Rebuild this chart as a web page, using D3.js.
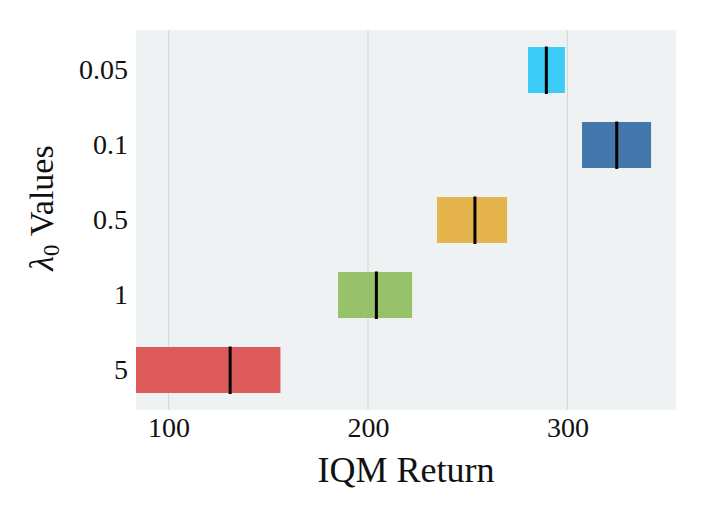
<!DOCTYPE html>
<html><head><meta charset="utf-8">
<script src="https://cdn.jsdelivr.net/npm/d3@7"></script>
<style>body{margin:0;background:#fff}</style>
</head><body>
<svg id="c" width="720" height="520"></svg>
<script>
const categories = ["0.05", "0.1", "0.5", "1", "5"];
const lowerValues = [280.2, 307.3, 234.6, 185.0, 83.7];
const upperValues = [298.7, 341.9, 269.7, 222.1, 156.1];
const medianValues = [289.4, 324.7, 253.6, 204.2, 130.9];
const colors = ["#3ccbf6", "#4477ab", "#e6b44c", "#97c16b", "#dd5a5a"];
const xTicks = [100, 200, 300];
const xDomain = [83.7, 354.4];

const svg = d3.select("#c");
const M = {left: 136, right: 676, top: 30, bottom: 410};
const x = d3.scaleLinear().domain(xDomain).range([M.left, M.right]);
const y = d3.scaleBand().domain(categories).range([M.top, M.bottom]).paddingInner(0.387).paddingOuter(0.227);

svg.append("defs").append("clipPath").attr("id","clip")
  .append("rect").attr("x",M.left).attr("y",M.top).attr("width",M.right-M.left).attr("height",M.bottom-M.top);

svg.append("rect").attr("x",M.left).attr("y",M.top).attr("width",M.right-M.left).attr("height",M.bottom-M.top)
  .attr("fill","#eef2f2");

// grid
svg.append("g").selectAll("line").data(xTicks).join("line")
  .attr("x1",d=>x(d)).attr("x2",d=>x(d)).attr("y1",M.top).attr("y2",M.bottom)
  .attr("stroke","#d6dada").attr("stroke-width",1.2);

const data = categories.map((c,i)=>({c, lo:lowerValues[i], hi:upperValues[i], med:medianValues[i], col:colors[i]}));
const g = svg.append("g").attr("clip-path","url(#clip)");
g.selectAll("rect.bar").data(data).join("rect").attr("class","bar")
  .attr("x",d=>x(d.lo)).attr("width",d=>x(d.hi)-x(d.lo))
  .attr("y",d=>y(d.c)).attr("height",y.bandwidth())
  .attr("fill",d=>d.col);
g.selectAll("line.med").data(data).join("line").attr("class","med")
  .attr("x1",d=>x(d.med)).attr("x2",d=>x(d.med))
  .attr("y1",d=>y(d.c)-0.5).attr("y2",d=>y(d.c)+y.bandwidth()+1)
  .attr("stroke","#000").attr("stroke-width",3);

const font = "'Liberation Serif','Times New Roman',serif";
// x axis ticks
const xa = svg.append("g").attr("transform",`translate(0,${M.bottom})`)
  .call(d3.axisBottom(x).tickValues(xTicks).tickSize(0).tickPadding(27));
xa.select(".domain").remove();
xa.selectAll("text").attr("font-family",font).attr("font-size",28).attr("fill","#111").attr("dy",0);

const ya = svg.append("g").attr("transform",`translate(${M.left},0)`)
  .call(d3.axisLeft(y).tickSize(0).tickPadding(8));
ya.select(".domain").remove();
ya.selectAll("text").attr("font-family",font).attr("font-size",28).attr("fill","#111");

svg.append("text").attr("x",(M.left+M.right)/2).attr("y",482)
  .attr("text-anchor","middle").attr("font-family",font).attr("font-size",36).attr("fill","#111")
  .text("IQM Return");

const yl = svg.append("text").attr("transform","translate(53,208) rotate(-90)")
  .attr("text-anchor","middle").attr("font-family",font).attr("font-size",34).attr("fill","#111");
yl.append("tspan").attr("font-style","italic").text("λ");
yl.append("tspan").attr("font-size",23).attr("dy",6).text("0");
yl.append("tspan").attr("dy",-6).text(" Values");
</script>
</body></html>
